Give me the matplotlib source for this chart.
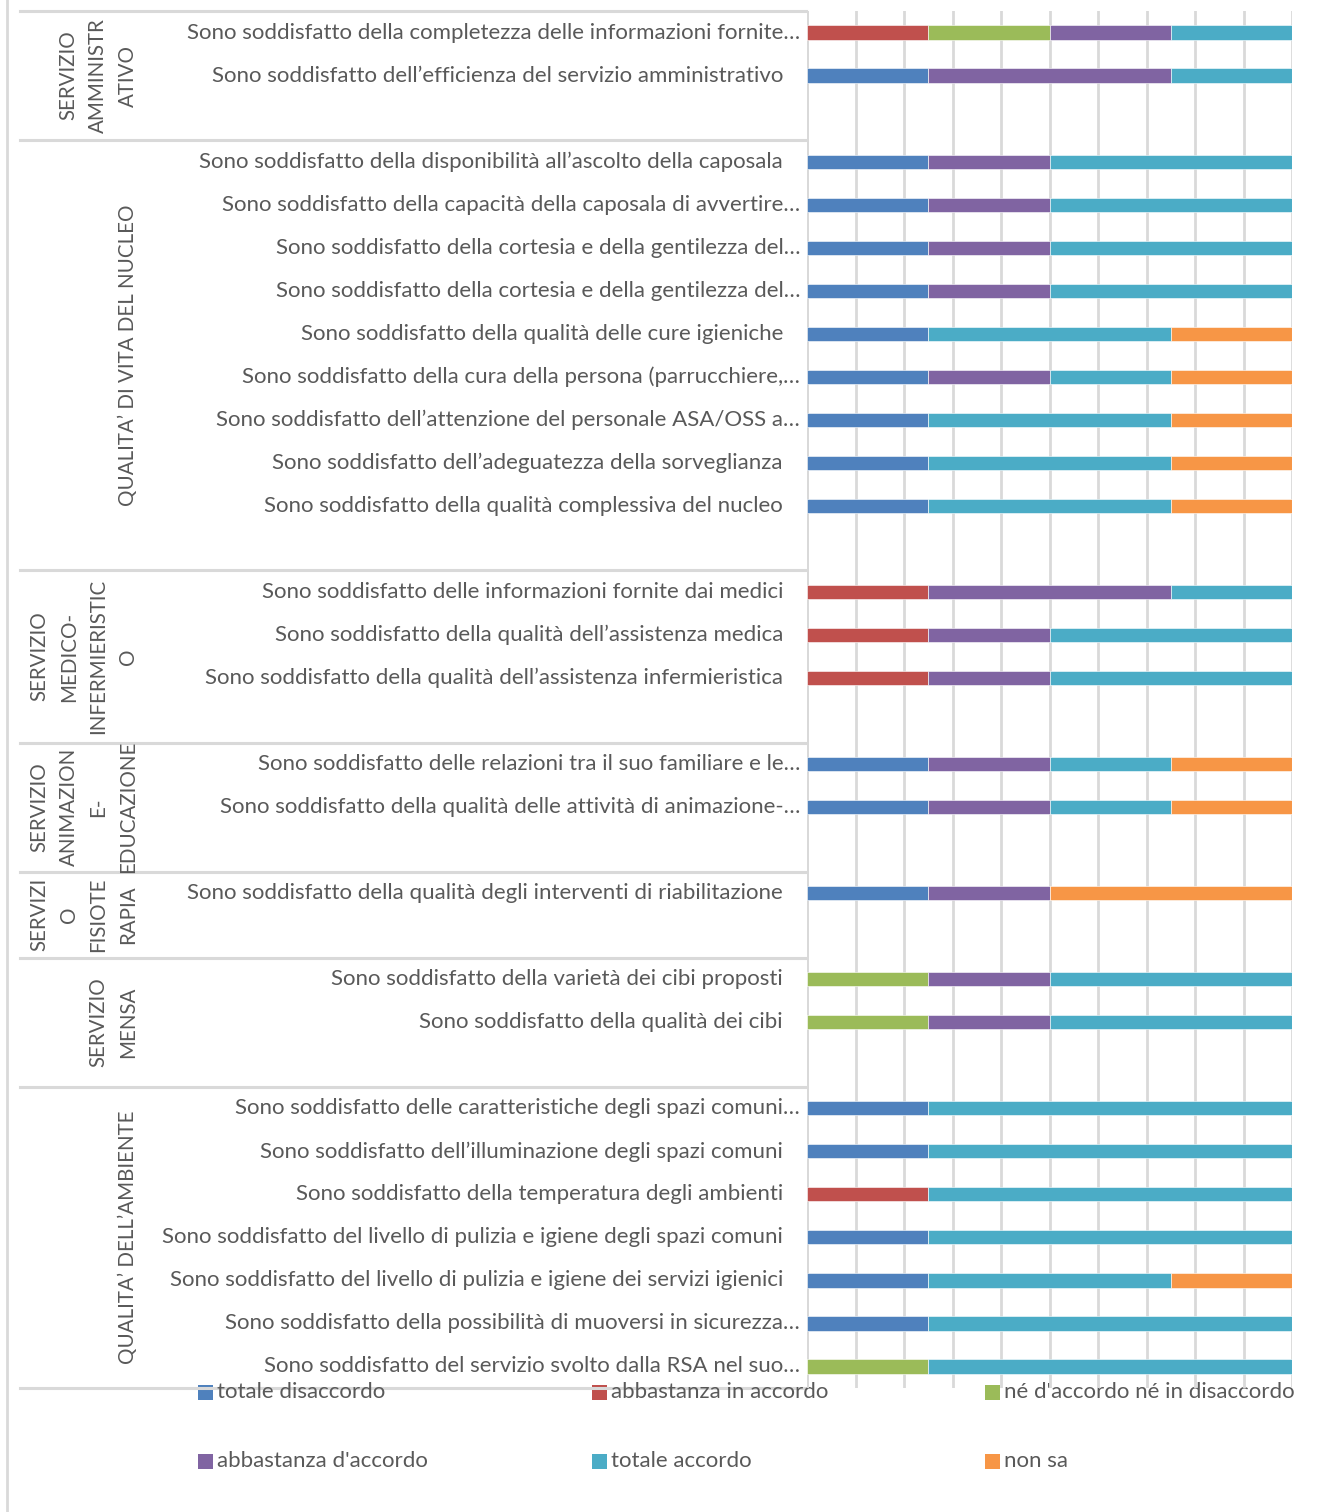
import matplotlib
matplotlib.use("Agg")
import matplotlib.pyplot as plt
import matplotlib.transforms as mtransforms
from matplotlib.lines import Line2D
from matplotlib.patches import Rectangle
import numpy as np

# --- survey items (top to bottom) ---
questions = [
    "Sono soddisfatto della completezza delle informazioni fornite…",
    "Sono soddisfatto dell’efficienza del servizio amministrativo",
    "Sono soddisfatto della disponibilità all’ascolto della caposala",
    "Sono soddisfatto della capacità della caposala di avvertire…",
    "Sono soddisfatto della cortesia e della gentilezza del…",
    "Sono soddisfatto della cortesia e della gentilezza del…",
    "Sono soddisfatto della qualità delle cure igieniche",
    "Sono soddisfatto della cura della persona (parrucchiere,…",
    "Sono soddisfatto dell’attenzione del personale ASA/OSS a…",
    "Sono soddisfatto dell’adeguatezza della sorveglianza",
    "Sono soddisfatto della qualità complessiva del nucleo",
    "Sono soddisfatto delle informazioni fornite dai medici",
    "Sono soddisfatto della qualità dell’assistenza medica",
    "Sono soddisfatto della qualità dell’assistenza infermieristica",
    "Sono soddisfatto delle relazioni tra il suo familiare e le…",
    "Sono soddisfatto della qualità delle attività di animazione-…",
    "Sono soddisfatto della qualità degli interventi di riabilitazione",
    "Sono soddisfatto della varietà dei cibi proposti",
    "Sono soddisfatto della qualità dei cibi",
    "Sono soddisfatto delle caratteristiche degli spazi comuni…",
    "Sono soddisfatto dell’illuminazione degli spazi comuni",
    "Sono soddisfatto della temperatura degli ambienti",
    "Sono soddisfatto del livello di pulizia e igiene degli spazi comuni",
    "Sono soddisfatto del livello di pulizia e igiene dei servizi igienici",
    "Sono soddisfatto della possibilità di muoversi in sicurezza…",
    "Sono soddisfatto del servizio svolto dalla RSA nel suo…",
]

group_names = [
    "SERVIZIO\nAMMINISTR\nATIVO",
    "QUALITA’ DI VITA DEL NUCLEO",
    "SERVIZIO\nMEDICO-\nINFERMIERISTIC\nO",
    "SERVIZIO\nANIMAZION\nE-\nEDUCAZIONE",
    "SERVIZI\nO\nFISIOTE\nRAPIA",
    "SERVIZIO\nMENSA",
    "QUALITA’ DELL’AMBIENTE",
]
group_sizes = [2, 9, 3, 2, 1, 2, 7]

series_names = [
    "totale disaccordo",
    "abbastanza in accordo",
    "né d'accordo né in disaccordo",
    "abbastanza d'accordo",
    "totale accordo",
    "non sa",
]

# percentage of answers per item
totale_disaccordo = [0, 25, 25, 25, 25, 25, 25, 25, 25, 25, 25, 0, 0, 0, 25, 25, 25, 0, 0, 25, 25, 0, 25, 25, 25, 0]
abbastanza_in_accordo = [25, 0, 0, 0, 0, 0, 0, 0, 0, 0, 0, 25, 25, 25, 0, 0, 0, 0, 0, 0, 0, 25, 0, 0, 0, 0]
ne_accordo_ne_disaccordo = [25, 0, 0, 0, 0, 0, 0, 0, 0, 0, 0, 0, 0, 0, 0, 0, 0, 25, 25, 0, 0, 0, 0, 0, 0, 25]
abbastanza_accordo = [25, 50, 25, 25, 25, 25, 0, 25, 0, 0, 0, 50, 25, 25, 25, 25, 25, 25, 25, 0, 0, 0, 0, 0, 0, 0]
totale_accordo = [25, 25, 50, 50, 50, 50, 50, 25, 50, 50, 50, 25, 50, 50, 25, 25, 0, 50, 50, 75, 75, 75, 75, 50, 75, 75]
non_sa = [0, 0, 0, 0, 0, 0, 25, 25, 25, 25, 25, 0, 0, 0, 25, 25, 50, 0, 0, 0, 0, 0, 0, 25, 0, 0]

series_values = [totale_disaccordo, abbastanza_in_accordo, ne_accordo_ne_disaccordo,
                 abbastanza_accordo, totale_accordo, non_sa]
colors = ["#4F81BD", "#C0504D", "#9BBB59", "#8064A2", "#4BACC6", "#F79646"]

TEXT = "#595959"
LINE = "#D9D9D9"
FONT = "Lato"
FS = 16.0
FS_GROUP = 14.8

W, H = 1343, 1512
fig = plt.figure(figsize=(W / 100, H / 100), dpi=100)
fig.patch.set_facecolor("white")

# full-figure overlay in pixel units for labels, separators and legend
over = fig.add_axes([0, 0, 1, 1], zorder=0)
over.set_xlim(0, W)
over.set_ylim(H, 0)
over.axis("off")
over.patch.set_alpha(0)

# plotting area
x0, x1, y0, y1 = 807, 1292, 11, 1388
ax = fig.add_axes([x0 / W, 1 - y1 / H, (x1 - x0) / W, (y1 - y0) / H], zorder=1)
ax.patch.set_alpha(0)

# slot positions: one blank slot after every group except the last
slots = []
bounds = [0]
s = 0
for gi, n in enumerate(group_sizes):
    for k in range(n):
        slots.append(s + 0.5)
        s += 1
    if gi < len(group_sizes) - 1:
        s += 1
    bounds.append(s)
n_slots = s
ypos = np.array(slots)

left = np.zeros(len(questions))
for vals, col in zip(series_values, colors):
    v = np.array(vals, dtype=float)
    ax.barh(ypos, v, left=left, height=0.33, color=col, edgecolor="white",
            linewidth=0.4, zorder=3)
    left += v

ax.set_xlim(0, 100)
ax.set_ylim(n_slots, 0)
ax.set_xticks(np.arange(0, 101, 10))
ax.set_xticklabels([])
ax.set_yticks([])
ax.tick_params(length=0)
ax.grid(axis="x", color=LINE, linewidth=2, zorder=0)
for sp in ax.spines.values():
    sp.set_visible(False)
ax.axvline(0, color=LINE, linewidth=2, zorder=1)

blend = mtransforms.blended_transform_factory(over.transData, ax.transData)

# category labels
for q, y in zip(questions, ypos):
    xr = 800 if q.endswith("…") else 783
    over.text(xr, y, q, transform=blend, ha="right", va="center",
              fontsize=FS, color=TEXT, family=FONT)

# group separators and group labels
for b in bounds:
    over.add_line(Line2D([20, 806], [b, b], transform=blend, color=LINE,
                         linewidth=2.2, clip_on=False))
for name, a, b in zip(group_names, bounds[:-1], bounds[1:]):
    over.text(138, (a + b) / 2, name, transform=blend, rotation=90,
              ha="right", va="center", multialignment="center",
              fontsize=FS_GROUP, color=TEXT, family=FONT, linespacing=1.6)

# outer frame edge on the left
over.add_line(Line2D([7, 7], [0, H], color=LINE, linewidth=2))

# legend: 3 columns x 2 rows
col_x = [198, 592, 985]
row_y = [1392, 1461]
for i, (name, col) in enumerate(zip(series_names, colors)):
    cx = col_x[i % 3]
    cy = row_y[i // 3]
    over.add_patch(Rectangle((cx, cy - 7.5), 15, 15, facecolor=col, edgecolor="none"))
    over.text(cx + 19, cy, name, ha="left", va="center", fontsize=FS,
              color=TEXT, family=FONT)

fig.savefig("out.png", dpi=100)
